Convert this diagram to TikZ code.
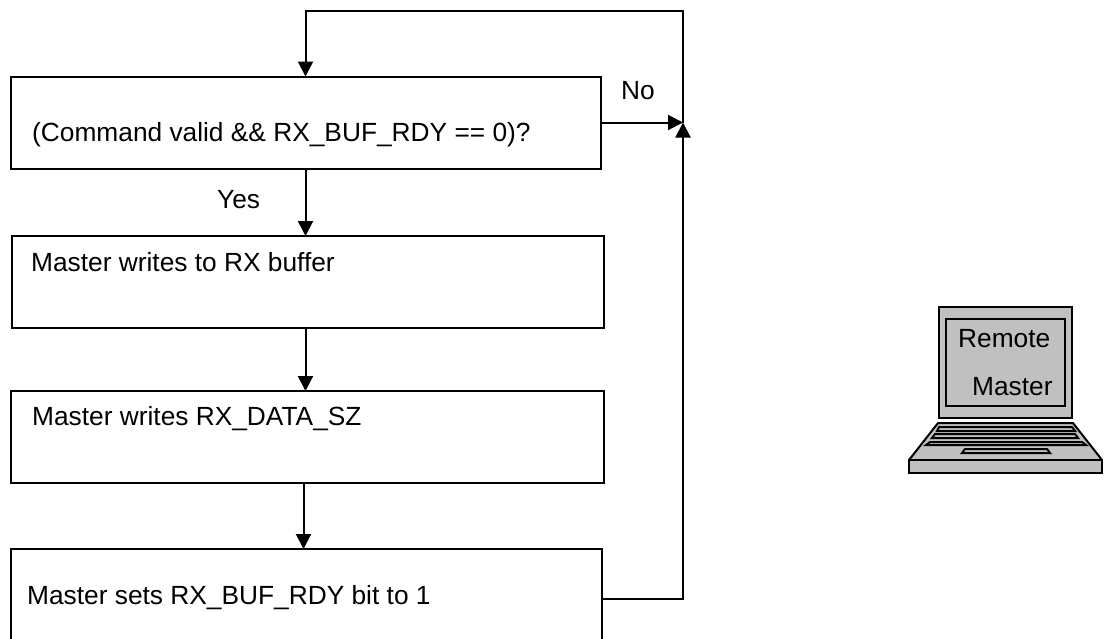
\documentclass[tikz,border=0pt]{standalone}
\usepackage{fontspec}
\setmainfont{Liberation Sans}
\usepackage{tikz}
\usetikzlibrary{arrows.meta}
\definecolor{laptopG}{HTML}{C0C0C0}
\tikzset{
	flowbox/.style={draw, rectangle, line width=2pt, inner sep=0pt, outer sep=0pt, minimum height=92pt},
	flowtext/.style={anchor=base west, inner sep=0pt, font=\fontsize{26.3}{30}\selectfont},
	flowline/.style={line width=2pt},
	flowarrow/.style={flowline, -{Triangle[length=15pt, width=15pt]}},
	% Define the reusable laptop template (pic)
	pics/laptop/.style={
		code={
			\path[draw, fill=laptopG, line width=2.2pt] (30,1) rectangle (163,112);
			\path[draw, fill=laptopG, line width=2pt] (37,13) rectangle (156,100);
			\path[draw, fill=laptopG, line width=2pt, line join=round] (29,117) -- (164,117) -- (193,154) -- (0,154) -- cycle;
			\path[draw, fill=laptopG, line width=2pt] (0,154) rectangle (193,167);
			% Key rows and the touch pad
			\path[draw, fill=laptopG, line width=2pt] (30,121) -- (163,121) -- (166,125) -- (28,125) -- cycle;
			\path[draw, fill=laptopG, line width=2pt] (26,128) -- (166,128) -- (169,132) -- (23,132) -- cycle;
			\path[draw, fill=laptopG, line width=2pt] (21,136) -- (173,136) -- (177,139) -- (17,139) -- cycle;
			\path[draw, fill=laptopG, line width=2pt] (56,143) -- (138,143) -- (141,147) -- (53,147) -- cycle;
		}
	}
}

\begin{document}
\begin{tikzpicture}[x=1pt, y=-1pt]
	\clip (0,0) rectangle (1105,638);
	\useasboundingbox (0,0) rectangle (1105,638);
	% Flow boxes
	\node[flowbox, minimum width=590pt] (valid) at (305.5,122.5) {};
	\node[flowbox, minimum width=592pt] (rxbuf) at (308,282) {};
	\node[flowbox, minimum width=593pt] (rxdatasz) at (307.5,437) {};
	\node[flowbox, minimum width=591pt, minimum height=100pt] (rdyset) at (306.3,599) {};
	\coordinate (join) at (683,122.5);
	\coordinate (topright) at (683,11);
	% Box texts
	\node[flowtext] (validtext) at (32,141) {(Command valid \&\& RX\_BUF\_RDY == 0)?};
	\node[flowtext] (rxbuftext) at (31,271) {Master writes to RX buffer};
	\node[flowtext] (rxdatasztext) at (32,425) {Master writes RX\_DATA\_SZ};
	\node[flowtext] (rdysettext) at (27,604) {Master sets RX\_BUF\_RDY bit to 1};
	\node[flowtext] (yes) at (217,208) {Yes};
	\node[flowtext] (no) at (621,99) {No};
	% Connectors
	\draw[flowarrow] (valid.south) -- (valid.south |- rxbuf.north);
	\draw[flowarrow] (rxbuf.south -| valid.south) -- (valid.south |- rxdatasz.north);
	\draw[flowarrow] ([xshift=-4pt]rxdatasz.south) -- ([xshift=-4pt]rxdatasz.south |- rdyset.north);
	\draw[flowarrow] (valid.east) -- (join);
	\draw[flowarrow] (rdyset.east) -| (join);
	\draw[flowarrow] (join) -- (topright) -| (valid.north);
	% Remote side
	\pic at (909,306) {laptop};
	\node[flowtext] (remote) at (958,347) {Remote};
	\node[flowtext] (master) at (972,395) {Master};
\end{tikzpicture}
\end{document}
